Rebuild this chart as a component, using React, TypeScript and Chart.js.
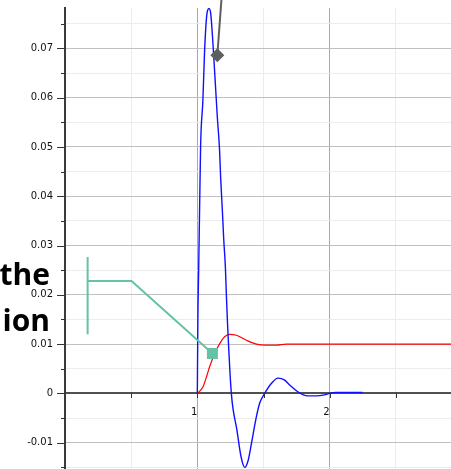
import React, { useEffect, useRef } from 'react';
import { Chart, registerables } from 'chart.js';

Chart.register(...registerables);

// Blue response (time, value)
const blueT = [1.0, 1.004, 1.010, 1.018, 1.025, 1.042, 1.055, 1.073, 1.088, 1.101, 1.118, 1.136, 1.151, 1.168, 1.176, 1.189, 1.199, 1.212, 1.219, 1.227, 1.257, 1.299, 1.33, 1.358, 1.385, 1.41, 1.441, 1.471, 1.509, 1.559, 1.609, 1.66, 1.698, 1.773, 1.83, 1.90, 1.96, 2.0, 2.045, 2.249];
const blueV = [0, 0.015, 0.025, 0.039, 0.0505, 0.0595, 0.0696, 0.0771, 0.0781, 0.0771, 0.0710, 0.0629, 0.0561, 0.0494, 0.0439, 0.0372, 0.0315, 0.0256, 0.0203, 0.0149, 0, -0.0074, -0.0128, -0.0150, -0.0135, -0.0100, -0.0054, -0.0020, 0, 0.0020, 0.0031, 0.0027, 0.0017, 0.0001, -0.0005, -0.0005, -0.0003, 0, 0.0002, 0.0002];

// Red response (time, value)
const redT = [1.0, 1.042, 1.073, 1.093, 1.13, 1.169, 1.206, 1.244, 1.295, 1.37, 1.446, 1.521, 1.597, 1.673, 1.75, 2.0, 2.5, 3.0];
const redV = [0, 0.0013, 0.0037, 0.0054, 0.0080, 0.0101, 0.0115, 0.0120, 0.0118, 0.0108, 0.0100, 0.0098, 0.0098, 0.0100, 0.0100, 0.0100, 0.0100, 0.0100];

// Annotation: gray pointer with diamond marker
const grayT = [1.151, 1.21];
const grayV = [0.0686, 0.09];

// Annotation: teal callout
const tealBarT = [0.171, 0.171];
const tealBarV = [0.0277, 0.012];
const tealPathT = [0.171, 0.503, 1.114];
const tealPathV = [0.0228, 0.0228, 0.0081];

// Label fragments (clipped on the left in the picture)
const labelLines = ['the', 'ion'];

// Axis ticks
const xTickValues = [0, 0.5, 1, 1.5, 2, 2.5, 3];
const yTickValues = [-0.02, -0.015, -0.01, -0.005, 0, 0.005, 0.01, 0.015, 0.02, 0.025, 0.03, 0.035, 0.04, 0.045, 0.05, 0.055, 0.06, 0.065, 0.07, 0.075];

const pts = (t: number[], v: number[]) => t.map((x, i) => ({ x, y: v[i] }));

const decorations = {
  id: 'decorations',
  afterDraw(chart: any) {
    const { ctx, scales } = chart;
    const x = scales.x;
    const y = scales.y;
    const x0 = x.getPixelForValue(0);
    const y0 = Math.round(y.getPixelForValue(0));
    ctx.save();
    ctx.strokeStyle = '#333';
    ctx.lineWidth = 1;
    y.ticks.forEach((t: any) => {
      const k = Math.round(t.value * 200);
      const py = Math.round(y.getPixelForValue(t.value)) + 0.5;
      const len = k % 2 === 0 ? 8 : 4;
      ctx.beginPath();
      ctx.moveTo(x0 - len, py);
      ctx.lineTo(x0, py);
      ctx.stroke();
    });
    x.ticks.forEach((t: any) => {
      if (t.value === 0) return;
      const px = Math.round(x.getPixelForValue(t.value)) + 0.5;
      ctx.beginPath();
      ctx.moveTo(px, y0);
      ctx.lineTo(px, y0 + 5);
      ctx.stroke();
    });
    ctx.fillStyle = '#000';
    ctx.font = 'bold 30px "Open Sans"';
    ctx.textAlign = 'right';
    ctx.textBaseline = 'alphabetic';
    ctx.fillText(labelLines[0], 50, 285);
    ctx.fillText(labelLines[1], 50, 331);
    ctx.restore();
  },
};

export default function App() {
  const ref = useRef<HTMLCanvasElement>(null);
  useEffect(() => {
    const chart = new Chart(ref.current as HTMLCanvasElement, {
      type: 'line',
      data: {
        datasets: [
          {
            data: pts(grayT, grayV),
            borderColor: '#5f5f5f',
            borderWidth: 2,
            pointStyle: 'rectRot',
            pointRadius: [7, 0],
            pointBackgroundColor: '#5f5f5f',
            pointBorderColor: '#5f5f5f',
            pointBorderWidth: 0,
            clip: false,
          },
          {
            data: pts(tealBarT, tealBarV),
            borderColor: '#66c2a5',
            borderWidth: 2,
            pointRadius: 0,
          },
          {
            data: pts(tealPathT, tealPathV),
            borderColor: '#66c2a5',
            borderWidth: 2,
            pointStyle: 'rect',
            pointRadius: [0, 0, 7.8],
            pointBackgroundColor: '#66c2a5',
            pointBorderColor: '#66c2a5',
            pointBorderWidth: 0,
          },
          {
            data: pts(blueT, blueV),
            borderColor: '#1010ff',
            borderWidth: 1.4,
            pointRadius: 0,
            cubicInterpolationMode: 'monotone',
          },
          {
            data: pts(redT, redV),
            borderColor: '#ff0000',
            borderWidth: 1.2,
            pointRadius: 0,
            cubicInterpolationMode: 'monotone',
          },
        ] as any,
      },
      options: {
        responsive: false,
        animation: false,
        devicePixelRatio: 1,
        layout: { padding: { left: 0, top: 8, right: 8, bottom: 8 } },
        plugins: { legend: { display: false }, tooltip: { enabled: false } },
        events: [],
        scales: {
          x: {
            type: 'linear',
            min: 0,
            max: 3,
            position: { y: 0 } as any,
            afterBuildTicks: (s: any) => {
              s.ticks = xTickValues.map((v) => ({ value: v }));
            },
            grid: {
              drawTicks: true,
              tickLength: 13,
              tickColor: 'rgba(0,0,0,0)',
              lineWidth: 1,
              color: (c: any) => {
                const v = c.tick ? c.tick.value : 0;
                if (v === 0) return 'rgba(0,0,0,0)';
                return Number.isInteger(v) ? '#a8a8a8' : '#ececec';
              },
            },
            border: { color: '#505050', width: 2 },
            ticks: {
              autoSkip: false,
              maxRotation: 0,
              align: 'end',
              padding: 0,
              color: '#111',
              font: { family: 'DejaVu Sans', size: 10 },
              callback: (v: any) => (Number.isInteger(v) && v !== 0 ? String(v) : ''),
            },
          },
          y: {
            type: 'linear',
            min: -0.02,
            max: 0.0782,
            afterFit: (s: any) => {
              s.width = 65;
            },
            afterBuildTicks: (s: any) => {
              s.ticks = yTickValues.map((v) => ({ value: v }));
            },
            grid: {
              drawTicks: true,
              tickLength: 12,
              tickColor: 'rgba(0,0,0,0)',
              lineWidth: 1,
              color: (c: any) => {
                const v = c.tick ? c.tick.value : 0;
                const k = Math.round(v * 200);
                if (k === 0) return 'rgba(0,0,0,0)';
                return k % 2 === 0 ? '#c0c0c0' : '#ececec';
              },
            },
            border: { color: '#3a3a3a', width: 2 },
            ticks: {
              autoSkip: false,
              padding: 0,
              color: '#111',
              font: { family: 'DejaVu Sans', size: 10 },
              callback: (v: any) => {
                const k = Math.round(Number(v) * 200);
                if (k % 2 !== 0) return '';
                if (k === 0) return '0';
                return (k / 200).toFixed(2);
              },
            },
          },
        },
      } as any,
      plugins: [decorations],
    });
    return () => chart.destroy();
  }, []);
  return (
    <div
      style={{
        position: 'fixed',
        left: 0,
        top: 0,
        width: 451,
        height: 469,
        overflow: 'hidden',
        background: '#fff',
      }}
    >
      <canvas ref={ref} width={470} height={500} style={{ display: 'block', width: 470, height: 500 }} />
    </div>
  );
}
